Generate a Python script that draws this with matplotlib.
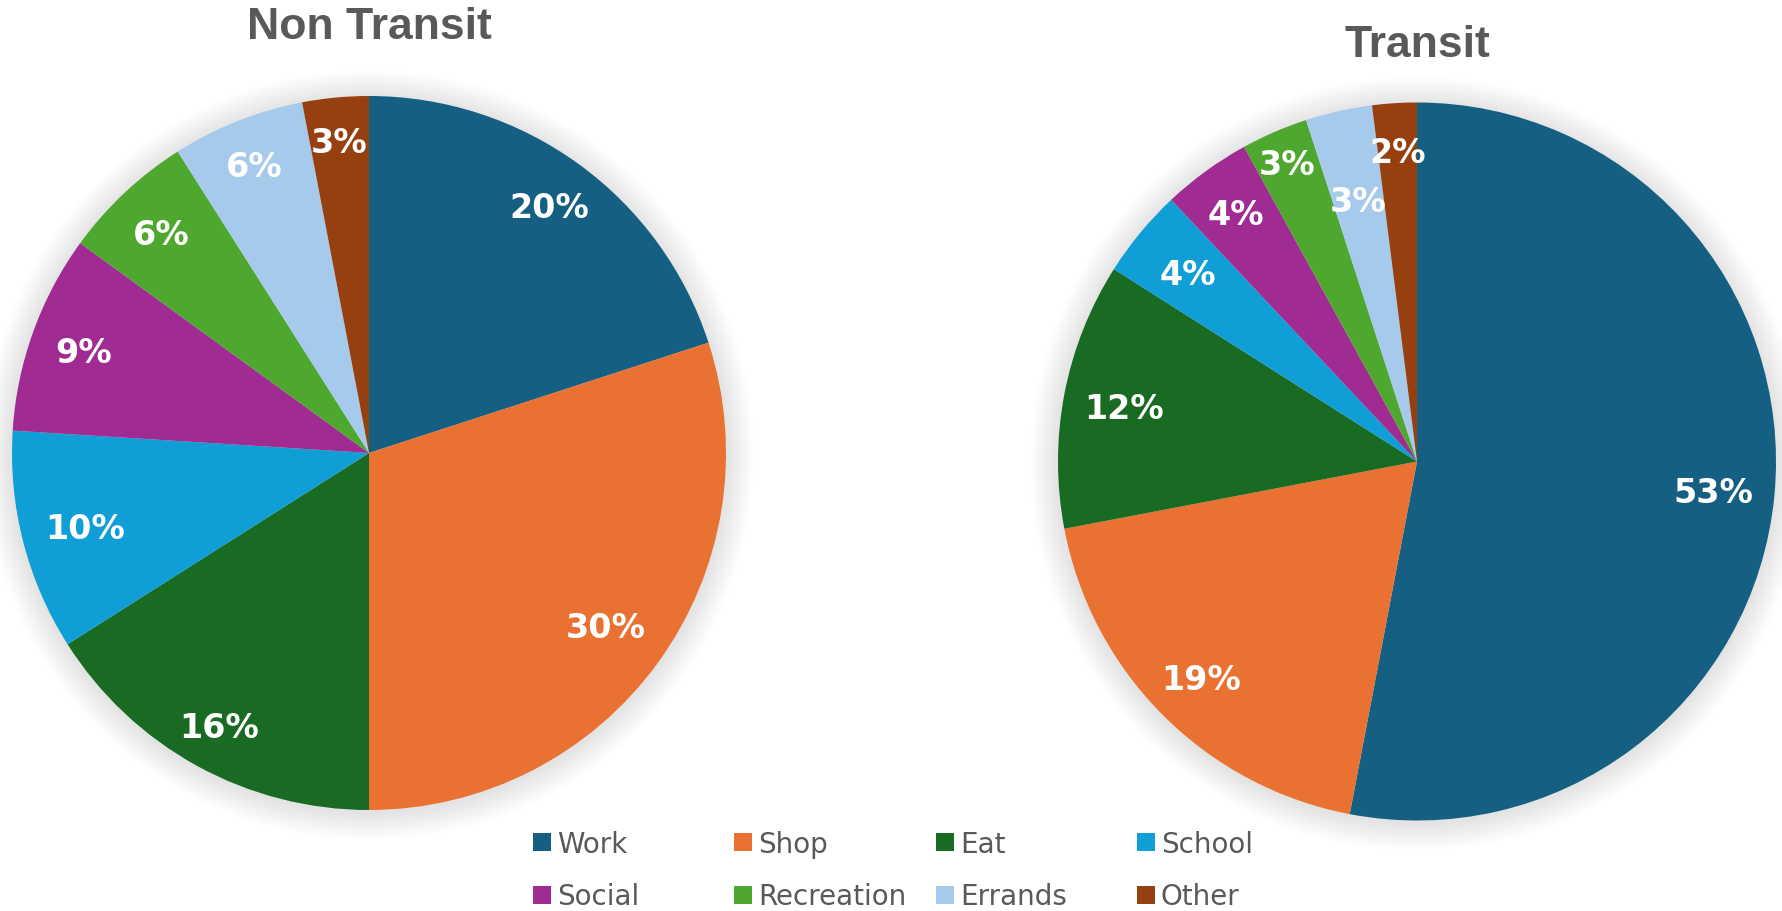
import matplotlib
matplotlib.use("Agg")
import matplotlib.pyplot as plt
from matplotlib.patches import Circle, Rectangle
import numpy as np

# data
categories = ['Work', 'Shop', 'Eat', 'School', 'Social', 'Recreation', 'Errands', 'Other']
non_transit = [20, 30, 16, 10, 9, 6, 6, 3]
transit = [53, 19, 12, 4, 4, 3, 3, 2]
colors = ['#156082', '#E97132', '#196B24', '#0F9ED5', '#A02B93', '#4EA72E', '#A6CAEC', '#97400F']

W, H = 1782, 912
fig = plt.figure(figsize=(W / 100, H / 100), dpi=100)
ax = fig.add_axes([0, 0, 1, 1])

GRAY = '#595959'


def draw_pie(vals, cx, cy, r, title, title_base, label_dist):
    # soft shadow around the pie
    n = 28
    for k in range(n):
        ax.add_patch(Circle((cx, cy - 2), r + n - k, facecolor='black',
                            edgecolor='none', alpha=0.005, zorder=1))
    wedges, _ = ax.pie(vals, colors=colors, startangle=90, counterclock=False,
                       center=(cx, cy), radius=r, frame=True,
                       wedgeprops=dict(linewidth=0, zorder=2))
    for w, v, d in zip(wedges, vals, label_dist):
        mid = np.deg2rad((w.theta1 + w.theta2) / 2)
        x = cx + d * r * np.cos(mid)
        y = cy + d * r * np.sin(mid)
        ax.text(x, y - 12, f'{v}%', ha='center', va='baseline', color='white',
                fontsize=24, fontweight='bold', family='DejaVu Sans', zorder=5)
    ax.text(cx, H - title_base, title, ha='center', va='baseline', color=GRAY,
            fontsize=32, fontweight='bold', family='Liberation Sans')


draw_pie(non_transit, 369, H - 454, 357, 'Non Transit', 39,
         [0.86, 0.82, 0.87, 0.82, 0.85, 0.85, 0.87, 0.88])
draw_pie(transit, 1417, H - 462.5, 359, 'Transit', 57,
         [0.83, 0.85, 0.83, 0.83, 0.86, 0.91, 0.75, 0.87])

# legend laid out like Excel's: 4 equal columns, 2 rows
col_x = [542, 743, 945, 1146]
row_y = [843, 895.5]
for i, (cat, c) in enumerate(zip(categories, colors)):
    x = col_x[i % 4]
    y = H - row_y[i // 4]
    ax.add_patch(Rectangle((x - 9, y - 9), 18, 18, facecolor=c, edgecolor='none'))
    ax.text(x + 15, y - 10, cat, ha='left', va='baseline', color=GRAY,
            fontsize=20, family='DejaVu Sans')

ax.set_xlim(0, W)
ax.set_ylim(0, H)
ax.set_aspect('auto')
ax.axis('off')

fig.savefig('out.png', dpi=100, facecolor='white')
